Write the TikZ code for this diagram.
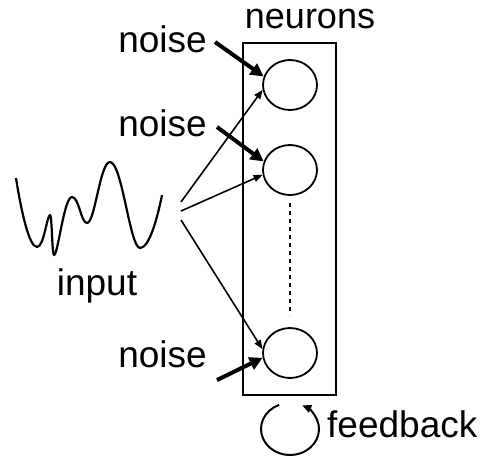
\documentclass[tikz,border=0pt]{standalone}
\usepackage{fontspec}
\setmainfont{Liberation Sans}
\usetikzlibrary{arrows.meta,shapes.geometric}
\tikzset{
  label/.style={inner sep=0pt, font=\fontsize{37}{40}\selectfont},
  neuron/.style={draw, ellipse, line width=1.8pt, minimum width=54pt, minimum height=50pt, inner sep=0pt},
  thinarrow/.style={line width=1.6pt, -{Triangle[length=9pt,width=7pt]}},
  noisearrow/.style={line width=4pt, -{Triangle[length=13pt,width=13pt]}},
}
\begin{document}
\begin{tikzpicture}[x=1pt, y=-1pt]
  \useasboundingbox (0,0) rectangle (490,459);

  % layer of neurons
  \draw[line width=2pt] (243,43) rectangle (336,395);
  \node[neuron] (n1) at (290,85) {};
  \node[neuron] (n2) at (290,170) {};
  \node[neuron] (n3) at (290,353) {};
  \coordinate (d1) at (290,203);
  \coordinate (d2) at (290,315);
  \draw[line width=2pt, dash pattern=on 4pt off 4pt] (d1) -- (d2);

  % labels
  \node[label, anchor=base, text height=20pt, font=\fontsize{36}{40}\selectfont] (lneu) at (310,28) {neurons};
  \node[label, anchor=base east] (lno1) at (207,52) {noise};
  \node[label, anchor=base east] (lno2) at (207,136) {noise};
  \node[label, anchor=base east] (lno3) at (207,367) {noise};
  \node[label, anchor=base] (lin) at (97,295) {input};
  \node[label, anchor=base west] (lfb) at (327,437) {feedback};

  % input signal
  \draw[line width=2.2pt, line join=round]
    (16,178) .. controls (21,210) and (29,247) .. (37,247)
    .. controls (44,247) and (47,215) .. (50,215)
    .. controls (52,215) and (52,255) .. (54,255)
    .. controls (58,255) and (64,197) .. (72,197)
    .. controls (79,197) and (81,223) .. (87,223)
    .. controls (95,223) and (100,162) .. (110,162)
    .. controls (122,162) and (130,248) .. (140,248)
    .. controls (149,248) and (157,220) .. (162,195);

  % input connections
  \coordinate (s1) at (181,202);
  \coordinate (s2) at (181,211);
  \coordinate (s3) at (181,220);
  \draw[thinarrow] (s1) -- (n1.190);
  \draw[thinarrow] (s2) -- (n2.190);
  \draw[thinarrow] (s3) -- (n3.172);

  % noise inputs
  \coordinate (e1) at (215,42);
  \coordinate (e2) at (217,127);
  \coordinate (e3) at (217,380);
  \draw[noisearrow] (e1) -- (n1.162);
  \draw[noisearrow] (e2) -- (n2.162);
  \draw[noisearrow] (e3) -- (n3.190);

  % feedback loop (radii and angles given in pt, so they are not flipped)
  \coordinate (fb) at (290,429);
  \draw[line width=2pt, -{Triangle[length=9pt,width=8pt]}]
    ([shift={(112:29pt and 26pt)}]fb) arc[start angle=112, end angle=425, x radius=29pt, y radius=26pt];
\end{tikzpicture}
\end{document}
